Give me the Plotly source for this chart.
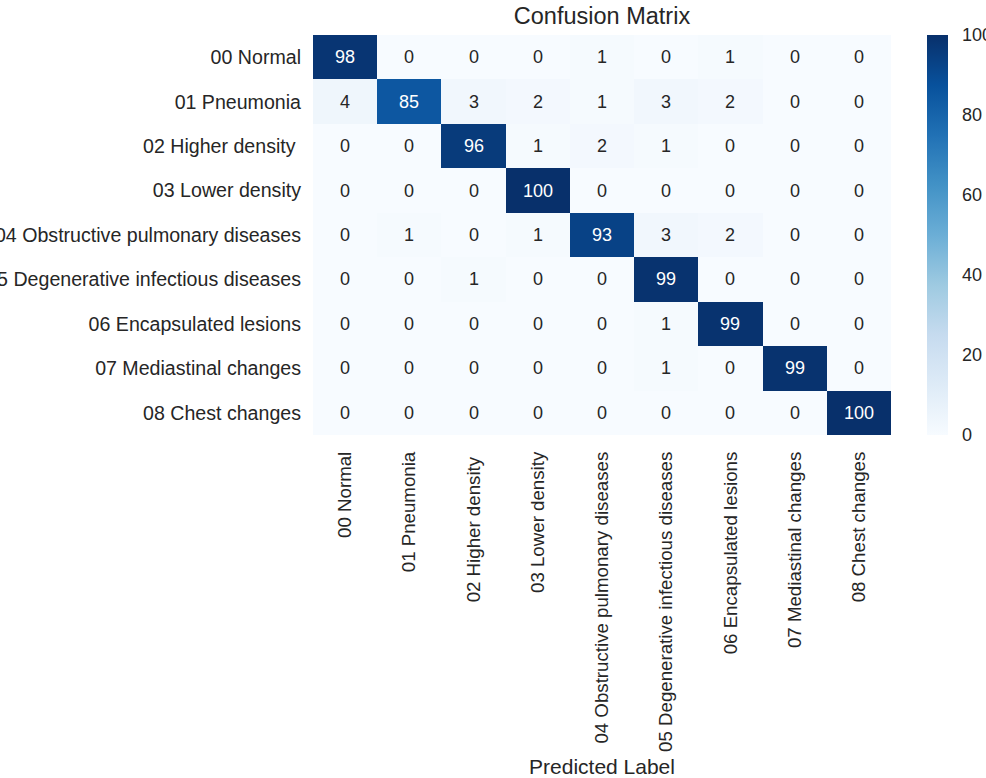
import plotly.graph_objects as go

# Class names (the "Higher density" label carries a trailing space)
labels = [
    "00 Normal",
    "01 Pneumonia",
    "02 Higher density\u00a0",
    "03 Lower density",
    "04 Obstructive pulmonary diseases",
    "05 Degenerative infectious diseases",
    "06 Encapsulated lesions",
    "07 Mediastinal changes",
    "08 Chest changes",
]

# Confusion matrix rows: true label, columns: predicted label
row_00 = [98, 0, 0, 0, 1, 0, 1, 0, 0]
row_01 = [4, 85, 3, 2, 1, 3, 2, 0, 0]
row_02 = [0, 0, 96, 1, 2, 1, 0, 0, 0]
row_03 = [0, 0, 0, 100, 0, 0, 0, 0, 0]
row_04 = [0, 1, 0, 1, 93, 3, 2, 0, 0]
row_05 = [0, 0, 1, 0, 0, 99, 0, 0, 0]
row_06 = [0, 0, 0, 0, 0, 1, 99, 0, 0]
row_07 = [0, 0, 0, 0, 0, 1, 0, 99, 0]
row_08 = [0, 0, 0, 0, 0, 0, 0, 0, 100]
matrix = [row_00, row_01, row_02, row_03, row_04, row_05, row_06, row_07, row_08]

colorbar_ticks = [0, 20, 40, 60, 80, 100]

blues = ["#f7fbff", "#deebf7", "#c6dbef", "#9ecae1", "#6baed6",
         "#4292c6", "#2171b5", "#08519c", "#08306b"]
colorscale = [[i / (len(blues) - 1), c] for i, c in enumerate(blues)]

FONT = "Liberation Sans, Arial, sans-serif"
TEXT = "#262626"

W, H = 986, 778
L, R, T, B = 313, 95, 35, 343

fig = go.Figure(
    go.Heatmap(
        z=matrix,
        x=labels,
        y=labels,
        zmin=0,
        zmax=100,
        colorscale=colorscale,
        xgap=0,
        ygap=0,
        hoverinfo="skip",
        colorbar=dict(
            x=(927 - L) / (W - L - R),
            xanchor="left",
            xpad=0,
            y=0.5,
            yanchor="middle",
            ypad=0,
            len=1,
            lenmode="fraction",
            thickness=21,
            thicknessmode="pixels",
            outlinewidth=0,
            tickvals=colorbar_ticks,
            ticks="outside",
            ticklen=11,
            tickcolor="rgba(0,0,0,0)",
            tickfont=dict(family=FONT, size=18, color=TEXT),
        ),
    )
)

# Cell value annotations: white text on dark cells, dark text on light ones
for i, row in enumerate(matrix):
    for j, v in enumerate(row):
        fig.add_annotation(
            x=labels[j],
            y=labels[i],
            text=str(v),
            showarrow=False,
            font=dict(family=FONT, size=18, color="white" if v > 60 else TEXT),
        )

fig.update_layout(
    width=W,
    height=H,
    margin=dict(l=L, r=R, t=T, b=B, autoexpand=False),
    paper_bgcolor="white",
    plot_bgcolor="white",
    font=dict(family=FONT, color=TEXT),
    title=dict(
        text="Confusion Matrix",
        x=(L + (W - L - R) / 2) / W,
        xanchor="center",
        xref="container",
        y=1 - 16 / H,
        yref="container",
        yanchor="middle",
        font=dict(family=FONT, size=23.5, color=TEXT),
    ),
    xaxis=dict(
        title=dict(text="Predicted Label", font=dict(family=FONT, size=21, color=TEXT), standoff=8),
        tickangle=-90,
        tickfont=dict(family=FONT, size=18.7, color=TEXT),
        showgrid=False,
        zeroline=False,
        showline=False,
        ticks="",
        ticklabelstandoff=12,
        automargin=False,
    ),
    yaxis=dict(
        autorange="reversed",
        tickfont=dict(family=FONT, size=19.6, color=TEXT),
        showgrid=False,
        zeroline=False,
        showline=False,
        ticks="",
        ticklabelstandoff=11,
        automargin=False,
    ),
)

fig.write_html("out.html")
